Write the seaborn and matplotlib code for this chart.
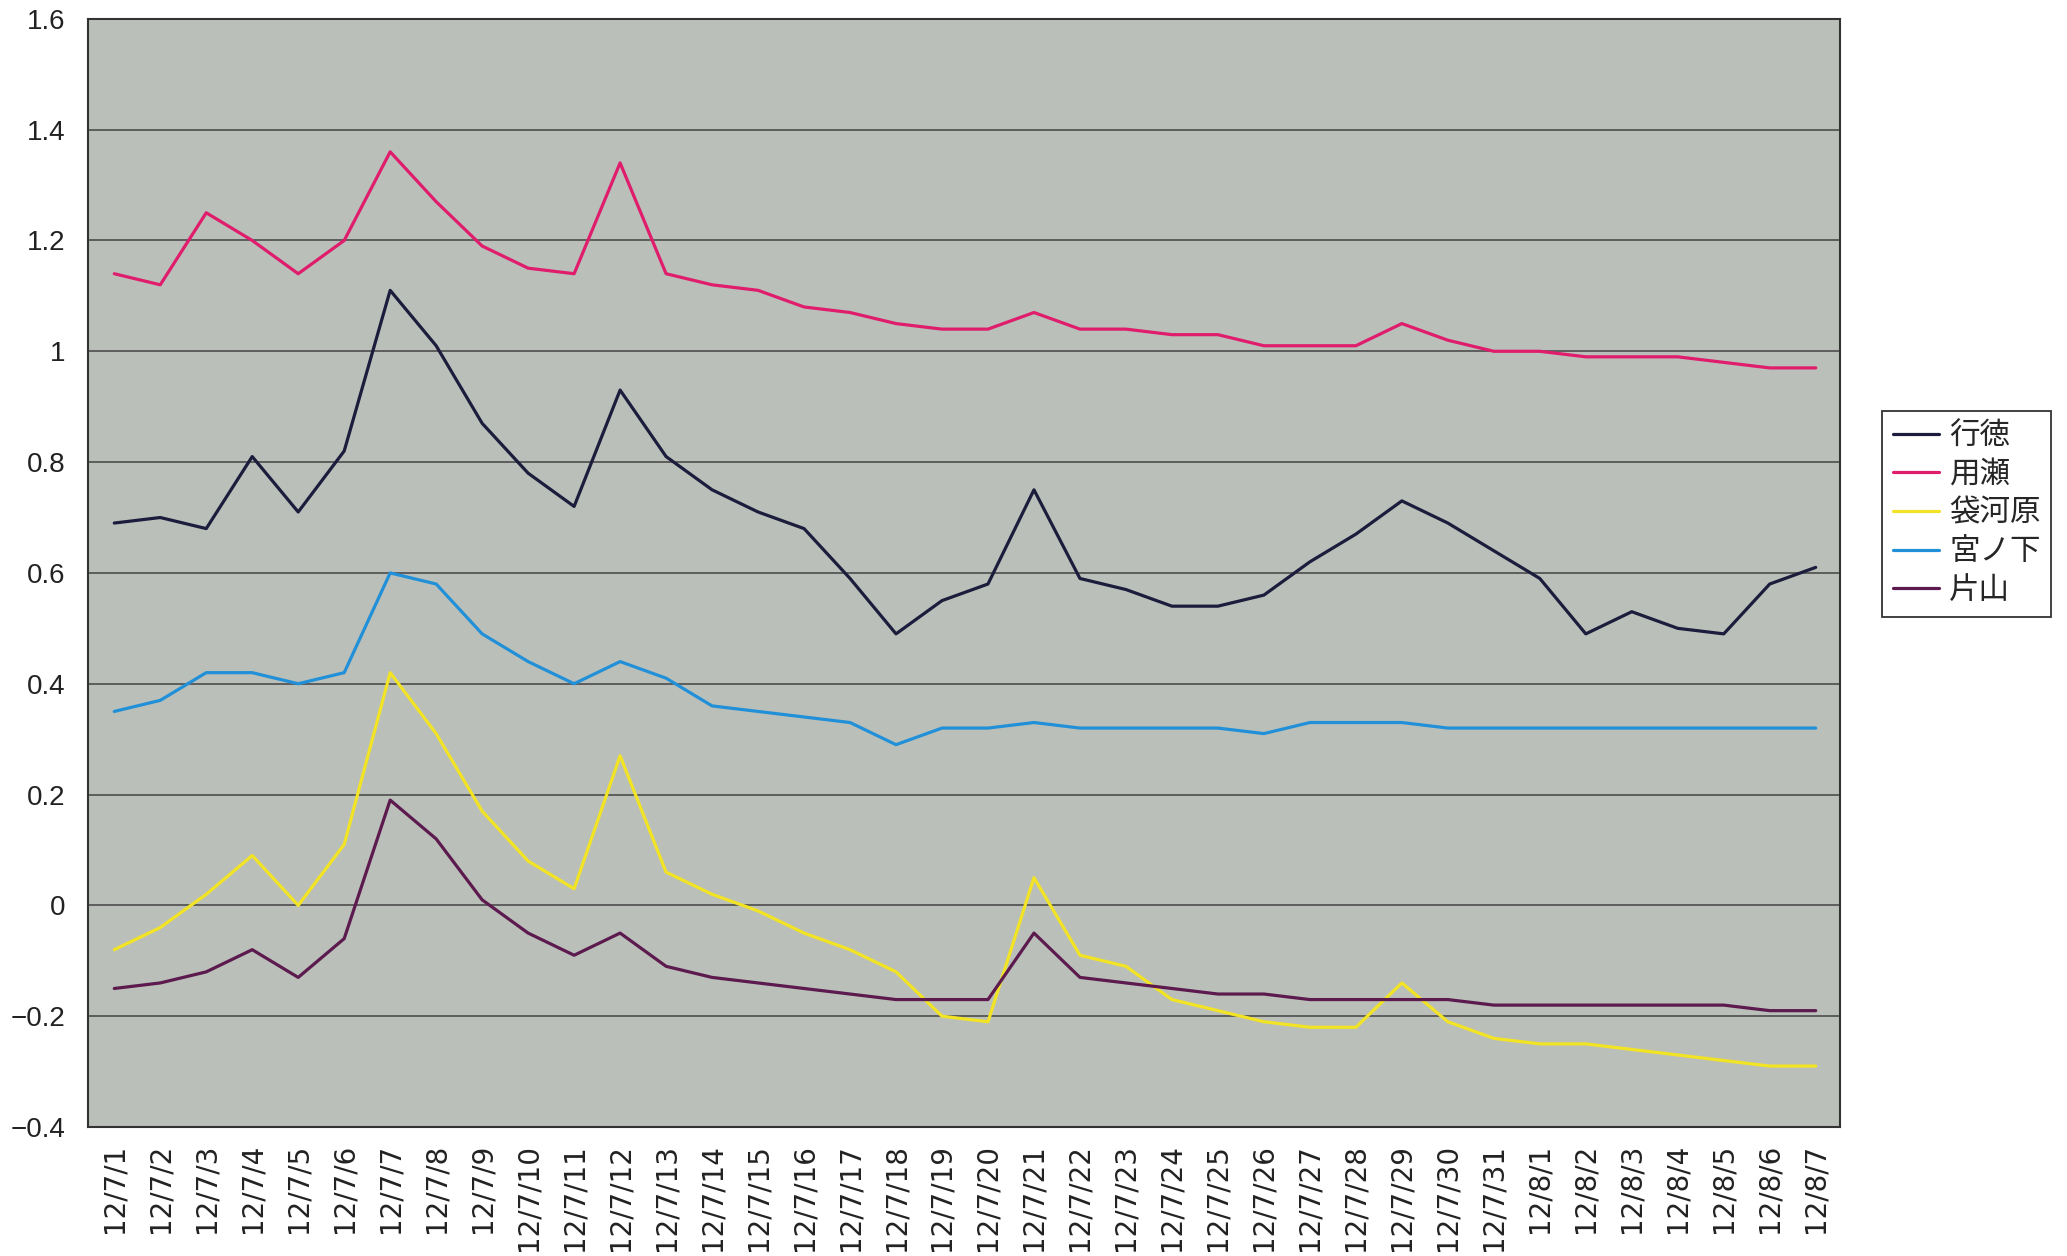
"""Daily readings at five stations, Jul 1 - Aug 7 (2012)."""

import pandas as pd
import seaborn as sns
import matplotlib.pyplot as plt

DATES = [f"12/7/{d}" for d in range(1, 32)] + [f"12/8/{d}" for d in range(1, 8)]

GYOTOKU = [0.69, 0.70, 0.68, 0.81, 0.71, 0.82, 1.11, 1.01, 0.87, 0.78, 0.72, 0.93, 0.81,
           0.75, 0.71, 0.68, 0.59, 0.49, 0.55, 0.58, 0.75, 0.59, 0.57, 0.54, 0.54, 0.56,
           0.62, 0.67, 0.73, 0.69, 0.64, 0.59, 0.49, 0.53, 0.50, 0.49, 0.58, 0.61]
MOCHIGASE = [1.14, 1.12, 1.25, 1.20, 1.14, 1.20, 1.36, 1.27, 1.19, 1.15, 1.14, 1.34, 1.14,
             1.12, 1.11, 1.08, 1.07, 1.05, 1.04, 1.04, 1.07, 1.04, 1.04, 1.03, 1.03, 1.01,
             1.01, 1.01, 1.05, 1.02, 1.00, 1.00, 0.99, 0.99, 0.99, 0.98, 0.97, 0.97]
FUKUROGAWARA = [-0.08, -0.04, 0.02, 0.09, 0.00, 0.11, 0.42, 0.31, 0.17, 0.08, 0.03, 0.27, 0.06,
                0.02, -0.01, -0.05, -0.08, -0.12, -0.20, -0.21, 0.05, -0.09, -0.11, -0.17, -0.19,
                -0.21, -0.22, -0.22, -0.14, -0.21, -0.24, -0.25, -0.25, -0.26, -0.27, -0.28,
                -0.29, -0.29]
MIYANOSHITA = [0.35, 0.37, 0.42, 0.42, 0.40, 0.42, 0.60, 0.58, 0.49, 0.44, 0.40, 0.44, 0.41,
               0.36, 0.35, 0.34, 0.33, 0.29, 0.32, 0.32, 0.33, 0.32, 0.32, 0.32, 0.32, 0.31,
               0.33, 0.33, 0.33, 0.32, 0.32, 0.32, 0.32, 0.32, 0.32, 0.32, 0.32, 0.32]
KATAYAMA = [-0.15, -0.14, -0.12, -0.08, -0.13, -0.06, 0.19, 0.12, 0.01, -0.05, -0.09, -0.05,
            -0.11, -0.13, -0.14, -0.15, -0.16, -0.17, -0.17, -0.17, -0.05, -0.13, -0.14, -0.15,
            -0.16, -0.16, -0.17, -0.17, -0.17, -0.17, -0.18, -0.18, -0.18, -0.18, -0.18, -0.18,
            -0.19, -0.19]

STATIONS = ["行徳", "用瀬", "袋河原", "宮ノ下", "片山"]
COLORS = ["#1c1c3c", "#e01c6c", "#f2e424", "#2290d8", "#5c1a4e"]
Y_TICKS = [-0.4, -0.2, 0, 0.2, 0.4, 0.6, 0.8, 1, 1.2, 1.4, 1.6]


def plot_stations():
    series = [GYOTOKU, MOCHIGASE, FUKUROGAWARA, MIYANOSHITA, KATAYAMA]
    frames = []
    for name, vals in zip(STATIONS, series):
        frames.append(pd.DataFrame({"idx": range(len(DATES)), "value": vals, "station": name}))
    df = pd.concat(frames, ignore_index=True)

    sns.set_theme(style="white")
    plt.rcParams["font.family"] = ["Liberation Sans", "Noto Sans CJK JP", "DejaVu Sans"]

    fig = plt.figure(figsize=(20.67, 12.56), dpi=100)
    fig.patch.set_facecolor("white")
    ax = fig.add_axes([0.0426, 0.1027, 0.8474, 0.8823])
    ax.set_facecolor("#bac0b9")

    sns.lineplot(data=df, x="idx", y="value", hue="station", hue_order=STATIONS,
                 palette=COLORS, linewidth=2.3, ax=ax, legend=True)

    ax.set_xlim(-0.57, len(DATES) - 0.48)
    ax.set_ylim(-0.4, 1.6)
    ax.set_yticks(Y_TICKS)
    ax.set_yticklabels([f"{v:g}".replace("-", "\u2212") for v in Y_TICKS], fontsize=20)
    ax.set_xticks(range(len(DATES)))
    ax.set_xticklabels(DATES, rotation=90, fontsize=20, family="DejaVu Sans")
    ax.tick_params(axis="y", length=0, pad=16, colors="#222222")
    ax.tick_params(axis="x", length=0, pad=12, colors="#222222")
    ax.grid(axis="y", color="#555555", linewidth=1.3)
    ax.set_axisbelow(True)
    ax.set_xlabel("")
    ax.set_ylabel("")
    for s in ax.spines.values():
        s.set_color("#333333")
        s.set_linewidth(1.5)

    handles, labels = ax.get_legend_handles_labels()
    ax.legend(handles, labels, loc="center left", bbox_to_anchor=(0.9105, 0.591),
              bbox_transform=fig.transFigure, fontsize=22, frameon=True, fancybox=False,
              edgecolor="#333333", facecolor="white", framealpha=1, borderaxespad=0,
              handlelength=1.5, handletextpad=0.35, labelspacing=0.28, borderpad=0.35)
    ax.get_legend().get_frame().set_linewidth(1.3)

    fig.savefig("out.png", dpi=100)


if __name__ == "__main__":
    plot_stations()
